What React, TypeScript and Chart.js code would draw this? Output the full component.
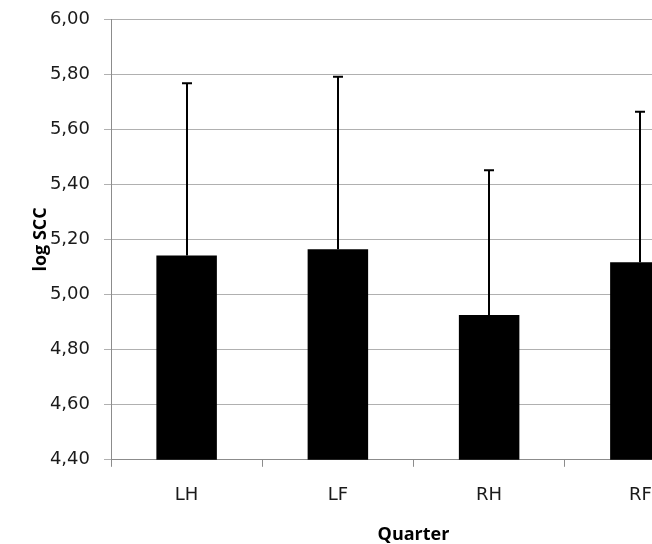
import React, { useEffect, useRef } from "react";
import { Chart, registerables } from "chart.js";

Chart.register(...registerables);

const categories = ["LH", "LF", "RH", "RF"];
const meanValues = [5.142, 5.164, 4.926, 5.117];
const errorValues = [0.625, 0.626, 0.525, 0.546];
const yMin = 4.4;
const yMax = 6.0;
const yStep = 0.2;
const xTitle = "Quarter";
const yTitle = "log SCC";

const errorBarPlugin = {
  id: "errorBars",
  afterDatasetsDraw(chart: any) {
    const ctx = chart.ctx;
    const meta = chart.getDatasetMeta(0);
    const yScale = chart.scales.y;
    ctx.save();
    ctx.strokeStyle = "#000000";
    ctx.lineWidth = 2;
    meta.data.forEach((bar: any, i: number) => {
      const x = Math.round(bar.x);
      const yTop = yScale.getPixelForValue(meanValues[i] + errorValues[i]);
      const yBot = bar.y;
      ctx.beginPath();
      ctx.moveTo(x, yBot);
      ctx.lineTo(x, yTop);
      ctx.moveTo(x - 5, yTop);
      ctx.lineTo(x + 5, yTop);
      ctx.stroke();
    });
    ctx.restore();
  },
};

export default function App() {
  const ref = useRef<HTMLCanvasElement>(null);
  useEffect(() => {
    if (!ref.current) return;
    const chart = new Chart(ref.current, {
      type: "bar",
      data: {
        labels: categories,
        datasets: [
          {
            data: meanValues,
            backgroundColor: "#000000",
            borderWidth: 0,
            barPercentage: 0.4,
            categoryPercentage: 1,
          },
        ],
      },
      plugins: [errorBarPlugin],
      options: {
        responsive: false,
        animation: false,
        devicePixelRatio: 1,
        layout: { padding: { left: 30, top: 19, right: 4, bottom: 0 } },
        plugins: { legend: { display: false }, tooltip: { enabled: false } },
        scales: {
          x: {
            offset: true,
            grid: {
              offset: true,
              drawOnChartArea: false,
              drawTicks: true,
              tickLength: 7,
              color: "#8c8c8c",
            },
            border: { color: "#8c8c8c", width: 1 },
            ticks: {
              color: "#1a1a1a",
              font: { family: "DejaVu Sans", size: 18 },
              padding: 18,
            },
            title: {
              display: true,
              text: xTitle,
              color: "#000000",
              font: { family: "Open Sans", size: 18, weight: "bold" },
              padding: { top: 0, bottom: -2 },
            },
          },
          y: {
            min: yMin,
            max: yMax,
            afterFit: (scale: any) => {
              scale.width = 81;
              scale.paddingTop = 0;
            },
            grid: {
              color: "#b0b0b0",
              tickLength: 7,
              drawTicks: true,
            },
            border: { color: "#8c8c8c", width: 1 },
            ticks: {
              stepSize: yStep,
              color: "#1a1a1a",
              font: { family: "DejaVu Sans", size: 18 },
              padding: 14,
              callback: (v: any) => Number(v).toFixed(2).replace(".", ","),
            },
            title: {
              display: true,
              text: yTitle,
              color: "#000000",
              font: { family: "Open Sans", size: 18, weight: "bold" },
              padding: { top: 0, bottom: 0 },
            },
          },
        },
      },
    });
    return () => chart.destroy();
  }, []);
  return (
    <div
      style={{
        position: "fixed",
        left: 0,
        top: 0,
        width: 652,
        height: 544,
        overflow: "hidden",
        background: "#ffffff",
      }}
    >
      <canvas ref={ref} width={720} height={544} style={{ display: "block" }} />
    </div>
  );
}
